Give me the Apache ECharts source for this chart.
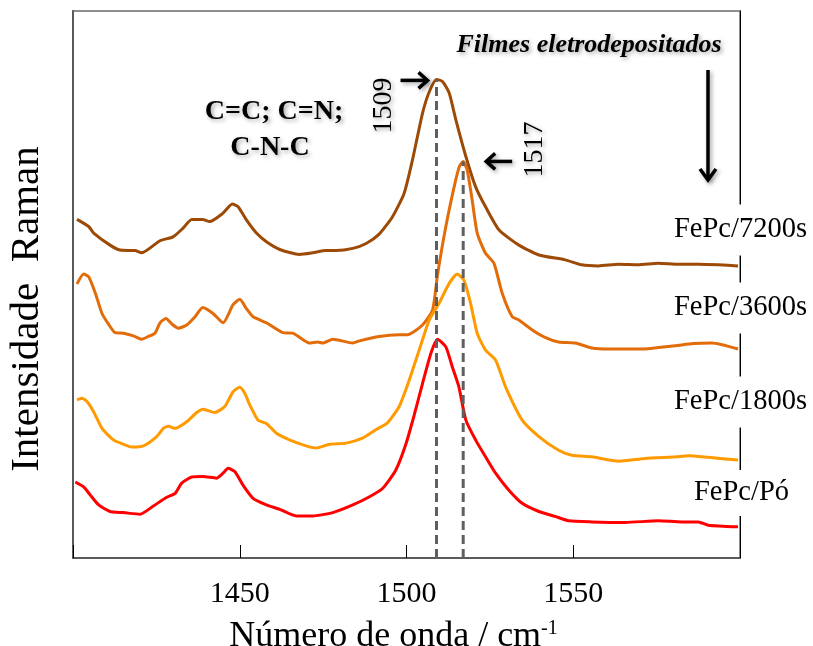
<!DOCTYPE html>
<html>
<head>
<meta charset="utf-8">
<script src="https://cdn.jsdelivr.net/npm/echarts@6/dist/echarts.min.js"></script>
<style>
  html, body { margin: 0; padding: 0; background: #ffffff; }
  #chart { width: 813px; height: 646px; }
</style>
</head>
<body>
<div id="chart"></div>
<script>
// Raman spectra of FePc (powder and electrodeposited films), vertically offset, arbitrary units
const spectrum7200s = [
  [1401.2, 61.9], [1404.7, 60.6], [1406.2, 59.4], [1411.1, 57.2], [1414.1, 56.3], [1418.6, 56.2],
  [1420.6, 55.8], [1426.1, 58.0], [1430.0, 58.7], [1433.0, 60.3], [1435.6, 61.9], [1438.9, 61.9],
  [1441.0, 61.5], [1444.9, 63.0], [1447.8, 64.7], [1449.5, 64.2], [1452.0, 61.8], [1455.0, 59.4],
  [1458.0, 57.8], [1462.0, 56.4], [1467.9, 55.5], [1471.9, 55.8], [1475.9, 56.2], [1478.9, 56.2],
  [1483.9, 56.6], [1487.9, 57.5], [1491.8, 59.2], [1495.8, 62.4], [1499.3, 66.7], [1501.8, 72.8],
  [1504.8, 81.3], [1506.8, 85.2], [1509, 87.5], [1510.8, 87.1], [1512.8, 85.0], [1514.8, 80.1],
  [1517.8, 73.4], [1520.7, 67.9], [1523.7, 64.2], [1527.7, 60.0], [1533.7, 57.2], [1539.7, 55.4],
  [1547.6, 54.5], [1552.5, 53.6], [1557.6, 53.4], [1563.6, 53.7], [1569.5, 53.6], [1575.5, 53.9],
  [1581.5, 53.7], [1587.5, 53.7], [1593.5, 53.6], [1599.4, 53.4]
];
const spectrum3600s = [
  [1401.2, 50.1], [1403.2, 51.9], [1404.7, 51.4], [1406.7, 48.4], [1408.7, 44.7], [1410.6, 42.8],
  [1412.6, 41.2], [1415.1, 41.1], [1418.1, 40.6], [1420.6, 40.0], [1422.6, 40.5], [1424.6, 41.1],
  [1426.1, 43.0], [1427.9, 43.8], [1429.6, 42.8], [1431.6, 42.0], [1434.1, 42.6], [1436.6, 44.1],
  [1438.9, 45.8], [1442.0, 44.7], [1445.0, 43.0], [1448.0, 46.3], [1450.0, 47.3], [1452.0, 45.6],
  [1454.0, 44.1], [1458.0, 43.0], [1462.9, 41.2], [1465.9, 41.1], [1470.9, 39.3], [1473.4, 39.5],
  [1474.9, 39.3], [1477.9, 40.0], [1483.9, 39.3], [1485.9, 39.7], [1491.8, 40.5], [1497.8, 40.8],
  [1500.3, 40.8], [1504.8, 42.6], [1507.8, 45.3], [1509.3, 51.8], [1511.8, 60.6], [1514.3, 67.9],
  [1515.8, 71.5], [1517, 72.5], [1518.2, 70.9], [1519.7, 65.4], [1521.2, 59.4], [1523.7, 55.7],
  [1526.2, 53.9], [1528.7, 48.4], [1531.7, 44.1], [1533.7, 43.5], [1537.7, 41.7], [1541.7, 40.3],
  [1545.6, 39.5], [1550.6, 39.3], [1555.6, 38.4], [1560.6, 38.2], [1570.5, 38.2], [1580.5, 38.8],
  [1586.0, 39.2], [1591.5, 39.3], [1599.4, 38.2]
];
const spectrum1800s = [
  [1401.2, 28.9], [1402.7, 29.2], [1404.2, 28.6], [1406.2, 26.7], [1408.7, 23.7], [1412.1, 21.6],
  [1415.1, 20.8], [1417.6, 20.3], [1421.1, 20.5], [1425.1, 22.2], [1427.1, 23.7], [1428.6, 24.1],
  [1430.6, 23.7], [1434.1, 24.9], [1437.1, 26.6], [1439.0, 27.2], [1442.5, 26.6], [1445.5, 27.7],
  [1448.0, 30.4], [1450.0, 31.2], [1451.5, 30.1], [1453.0, 28.0], [1455.5, 25.2], [1458.0, 24.6],
  [1461.0, 22.8], [1464.9, 21.6], [1469.9, 20.5], [1472.9, 20.1], [1476.9, 20.8], [1481.9, 21.0],
  [1486.8, 21.9], [1490.9, 23.5], [1494.3, 24.7], [1497.8, 27.7], [1500.8, 32.5], [1503.8, 38.0],
  [1506.8, 43.5], [1509.8, 46.6], [1512.8, 50.2], [1515.2, 51.9], [1517.2, 50.8], [1519.2, 46.6],
  [1521.2, 41.1], [1523.7, 38.0], [1526.7, 36.2], [1529.7, 31.3], [1534.7, 25.2], [1539.7, 22.2],
  [1545.6, 19.7], [1549.6, 18.8], [1555.6, 18.5], [1563.6, 17.7], [1571.5, 18.2], [1581.5, 18.5],
  [1584.5, 18.7], [1590.5, 18.4], [1599.4, 17.9]
];
const spectrumPowder = [
  [1400.7, 13.9], [1403.2, 13.0], [1405.2, 11.5], [1407.7, 9.7], [1411.1, 8.5], [1415.1, 8.3],
  [1420.1, 8.0], [1424.1, 9.5], [1428.1, 11.1], [1430.6, 11.8], [1432.6, 13.7], [1435.6, 14.8],
  [1439.0, 14.9], [1443.0, 14.6], [1445.0, 15.5], [1446.5, 16.4], [1448.5, 15.8], [1451.0, 13.3],
  [1454.0, 10.9], [1458.0, 9.7], [1462.0, 8.9], [1466.9, 7.7], [1471.9, 7.7], [1477.9, 8.3],
  [1483.9, 9.7], [1488.9, 11.2], [1492.8, 12.7], [1496.8, 16.1], [1499.8, 20.8], [1502.3, 26.1],
  [1504.8, 31.9], [1507.3, 37.4], [1509.3, 40.0], [1511.8, 38.6], [1513.7, 35.0], [1515.7, 31.3],
  [1517.8, 25.2], [1520.7, 21.6], [1523.7, 18.5], [1526.7, 15.5], [1530.7, 12.4], [1534.7, 10.0],
  [1539.7, 8.5], [1544.6, 7.6], [1548.6, 6.8], [1555.6, 6.6], [1565.6, 6.5],
  [1575.5, 6.8], [1582.5, 6.6], [1587.5, 6.6], [1590.5, 6.0], [1599.4, 5.7]
];

const seriesNames = ['FePc/7200s', 'FePc/3600s', 'FePc/1800s', 'FePc/Pó'];
const seriesColors = ['#9C4A06', '#E36C0A', '#FF9A00', '#FF0000'];
const wavenumberRange = [1400, 1600];
const tickStep = 50;
const peakFilm = 1509;      // band position of the 7200 s film
const peakShifted = 1517;   // band position of the 3600 s film

const FONT = '"Liberation Serif", "Times New Roman", serif';

function valueAt(data, x) {
  const hit = data.find(d => d[0] === x);
  return hit ? hit[1] : null;
}

const spectra = [spectrum7200s, spectrum3600s, spectrum1800s, spectrumPowder];

const chart = echarts.init(document.getElementById('chart'), null, { renderer: 'canvas' });

const lineSeries = spectra.map((data, i) => ({
  type: 'line',
  name: seriesNames[i],
  data: data,
  symbol: 'none',
  smooth: 0.2,
  lineStyle: { color: seriesColors[i], width: 3 },
  z: 2,
  silent: true
}));

const dashStyle = { color: '#5f5f5f', width: 3, type: [9, 5] };
const guideSeries = [
  { type: 'line', data: [[peakFilm, 0], [peakFilm, valueAt(spectrum7200s, peakFilm)]],
    symbol: 'none', lineStyle: dashStyle, z: 4, silent: true },
  { type: 'line', data: [[peakShifted, 0], [peakShifted, valueAt(spectrum3600s, peakShifted)]],
    symbol: 'none', lineStyle: dashStyle, z: 4, silent: true }
];

chart.setOption({
  animation: false,
  backgroundColor: '#ffffff',
  grid: {
    left: 73, right: 73, top: 11, bottom: 88, containLabel: false, outerBoundsMode: 'none',
    show: true, borderColor: '#6a6a6a', borderWidth: 1.5, backgroundColor: 'transparent'
  },
  xAxis: {
    type: 'value', min: wavenumberRange[0], max: wavenumberRange[1], interval: tickStep,
    position: 'bottom',
    axisLine: { show: true, lineStyle: { color: '#5a5a5a', width: 2 } },
    axisTick: { show: true, inside: true, length: 13, lineStyle: { color: '#000', width: 1 } },
    axisLabel: {
      margin: 21, color: '#000', fontFamily: FONT, fontSize: 30,
      formatter: v => (v === wavenumberRange[0] || v === wavenumberRange[1]) ? '' : String(v)
    },
    splitLine: { show: false },
    name: '{a|Número de onda / cm}{s|-1}',
    nameLocation: 'middle',
    nameGap: 61,
    nameTextStyle: {
      padding: [0, 26, 0, 0],
      rich: {
        a: { fontFamily: FONT, fontSize: 36, color: '#000' },
        s: { fontFamily: FONT, fontSize: 20, color: '#000', verticalAlign: 'top', padding: [0, 0, 14, 0] }
      }
    }
  },
  yAxis: [
    {
      type: 'value', min: 0, max: 100, position: 'left',
      axisLine: { show: true, lineStyle: { color: '#5a5a5a', width: 2 } },
      axisTick: { show: false }, axisLabel: { show: false }, splitLine: { show: false }
    },
    {
      type: 'value', min: 0, max: 100, position: 'right',
      axisLine: { show: true, lineStyle: { color: '#000', width: 1 } },
      axisTick: { show: false }, axisLabel: { show: false }, splitLine: { show: false }
    }
  ],
  series: lineSeries.concat(guideSeries)
});

// annotations anchored to the band positions
const topPeak = chart.convertToPixel({ xAxisIndex: 0, yAxisIndex: 0 }, [peakFilm, valueAt(spectrum7200s, peakFilm)]);
const midPeak = chart.convertToPixel({ xAxisIndex: 0, yAxisIndex: 0 }, [peakShifted, valueAt(spectrum3600s, peakShifted)]);

const shadow = { shadowBlur: 4, shadowColor: 'rgba(0,0,0,0.35)', shadowOffsetX: 2, shadowOffsetY: 2 };
const textShadow = { textShadowBlur: 4, textShadowColor: 'rgba(0,0,0,0.35)', textShadowOffsetX: 2, textShadowOffsetY: 2 };

function arrow(points, head) {
  return [
    { type: 'polyline', z: 100, shape: { points: points },
      style: Object.assign({ stroke: '#000', lineWidth: 3.5, fill: null }, shadow) },
    { type: 'polyline', z: 100, shape: { points: head },
      style: Object.assign({ stroke: '#000', lineWidth: 3.5, fill: null, lineJoin: 'miter' }, shadow) }
  ];
}

const rx = topPeak[0] - 9, ry = topPeak[1] + 1;
const lx = midPeak[0] + 23, ly = midPeak[1];

const labelYs = [230, 308, 402, 493];
const labelXs = [672, 672, 672, 692];

const graphics = [
  // band labels
  { type: 'text', z: 100, x: topPeak[0] - 53, y: topPeak[1] + 26, rotation: Math.PI / 2,
    style: Object.assign({ text: String(peakFilm), font: '28px ' + FONT, fill: '#000',
      align: 'center', verticalAlign: 'middle' }, textShadow) },
  { type: 'text', z: 100, x: midPeak[0] + 71, y: midPeak[1] - 12, rotation: Math.PI / 2,
    style: Object.assign({ text: String(peakShifted), font: '28px ' + FONT, fill: '#000',
      align: 'center', verticalAlign: 'middle' }, textShadow) },
  // band assignment
  { type: 'text', z: 100, x: 274, y: 112,
    style: Object.assign({ text: 'C=C; C=N;', font: 'bold 28px ' + FONT, fill: '#000',
      align: 'center', verticalAlign: 'middle' }, textShadow) },
  { type: 'text', z: 100, x: 270, y: 148,
    style: Object.assign({ text: 'C-N-C', font: 'bold 28px ' + FONT, fill: '#000',
      align: 'center', verticalAlign: 'middle' }, textShadow) },
  // film series heading and direction arrow
  { type: 'text', z: 100, x: 589, y: 45,
    style: Object.assign({ text: 'Filmes eletrodepositados', font: 'italic bold 26px ' + FONT, fill: '#000',
      align: 'center', verticalAlign: 'middle' }, textShadow) },
  // y axis title
  { type: 'text', z: 100, x: 27, y: 309, rotation: Math.PI / 2,
    style: { text: 'Intensidade  Raman', font: '41px ' + FONT, fill: '#000',
      align: 'center', verticalAlign: 'middle' } }
]
.concat(arrow([[rx - 27, ry], [rx, ry]], [[rx - 9, ry - 8], [rx, ry], [rx - 9, ry + 8]]))
.concat(arrow([[lx + 26, ly], [lx, ly]], [[lx + 9, ly - 8], [lx, ly], [lx + 9, ly + 8]]))
.concat(arrow([[708, 70], [708, 180]], [[700, 169], [708, 180], [716, 169]]))
.concat(seriesNames.map((name, i) => ({
  type: 'text', z: 100, x: labelXs[i], y: labelYs[i],
  style: { text: name, font: '28.5px ' + FONT, fill: '#000', align: 'left', verticalAlign: 'middle',
    backgroundColor: '#ffffff', padding: i === 3 ? [9, 2, 8, 2] : [11, 2] }
})));

chart.setOption({ graphic: { elements: graphics } });
</script>
</body>
</html>
